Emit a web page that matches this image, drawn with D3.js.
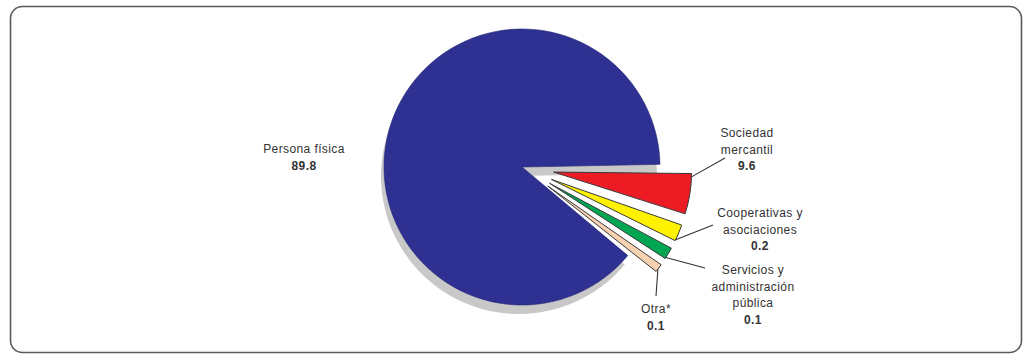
<!DOCTYPE html>
<html>
<head>
<meta charset="utf-8">
<script src="https://cdnjs.cloudflare.com/ajax/libs/d3/7.8.5/d3.min.js"></script>
<style>
  body { margin: 0; background: #fff; }
  svg text { font-family: "Liberation Sans", Arial, sans-serif; fill: #333; }
</style>
</head>
<body>
<div id="chart"></div>
<script>
// categories and labelled values (percent)
var categorias = ["Persona física", "Sociedad mercantil", "Cooperativas y asociaciones", "Servicios y administración pública", "Otra*"];
var valores = [89.8, 9.6, 0.2, 0.1, 0.1];
// share of the circle each slice takes in the drawing (small slices enlarged)
var porcion = [318.5, 17, 7, 5, 3.5];
// label lines as printed
var etiquetas = [
  ["Persona física"],
  ["Sociedad", "mercantil"],
  ["Cooperativas y", "asociaciones"],
  ["Servicios y", "administración", "pública"],
  ["Otra*"]
];
var colores = ["#2e3192", "#ed1c24", "#fff200", "#00a651", "#f8d1b0"];

var width = 1029, height = 362;
var cx = 522, cy = 167, radius = 138;

var svg = d3.select("#chart").append("svg")
    .attr("width", width)
    .attr("height", height);

// frame
svg.append("rect")
    .attr("x", 10.5).attr("y", 6.5)
    .attr("width", 1011).attr("height", 346)
    .attr("rx", 12).attr("ry", 12)
    .attr("fill", "#fff")
    .attr("stroke", "#5a5a5a")
    .attr("stroke-width", 1.6);

var deg = Math.PI / 180;
var pie = d3.pie()
    .sort(null)
    .value(function(d){ return d; })
    .padAngle(1.7 * deg)
    .startAngle(129.1 * deg)
    .endAngle(489.1 * deg);

var arcs = pie(porcion);
var arc = d3.arc().innerRadius(0).outerRadius(radius);

function explode(i){ return i === 0 ? 0 : 32; }
function offset(d, i){
  var a = (d.startAngle + d.endAngle) / 2;
  return [Math.sin(a) * explode(i), -Math.cos(a) * explode(i)];
}

var g = svg.append("g").attr("transform", "translate(" + cx + "," + cy + ")");

// shadow under the big slice only
g.append("path")
    .datum(arcs[0])
    .attr("d", arc)
    .attr("fill", "#c8c8c8")
    .attr("transform", "translate(-3,9)");

g.selectAll(".slice")
    .data(arcs)
    .enter().append("path")
    .attr("class", "slice")
    .attr("d", arc)
    .attr("fill", function(d, i){ return colores[i]; })
    .attr("stroke", function(d, i){ return i === 0 ? "#1f2270" : "#3a3a3a"; })
    .attr("stroke-width", function(d, i){ return i === 0 ? 0.6 : 1; })
    .attr("transform", function(d, i){
      var o = offset(d, i);
      return "translate(" + o[0] + "," + o[1] + ")";
    });

// label placement (first line centre) and leader end points
var posLabel = [[304, 149], [747, 133], [760, 213], [753, 270], [656, 309]];
var leaderEnd = [null, [725, 158], [713, 225], [705, 268], [656, 296]];
var ancla = [0.5, 0.12, 0.85, 0.8, 0.6];

arcs.forEach(function(d, i){
  if (!leaderEnd[i]) return;
  var a = d.startAngle + (d.endAngle - d.startAngle) * ancla[i];
  var o = offset(d, i);
  var x0 = cx + o[0] + Math.sin(a) * radius;
  var y0 = cy + o[1] - Math.cos(a) * radius;
  svg.append("line")
      .attr("x1", x0).attr("y1", y0)
      .attr("x2", leaderEnd[i][0]).attr("y2", leaderEnd[i][1])
      .attr("stroke", "#333")
      .attr("stroke-width", 1.1);
});

var lineH = 16.5;
etiquetas.forEach(function(lines, i){
  var t = svg.append("text")
      .attr("x", posLabel[i][0])
      .attr("y", posLabel[i][1])
      .attr("text-anchor", "middle")
      .style("font-size", "12px")
      .style("letter-spacing", "0.4px");
  lines.forEach(function(s, j){
    t.append("tspan")
      .attr("x", posLabel[i][0])
      .attr("y", posLabel[i][1] + j * lineH)
      .attr("dy", "0.35em")
      .text(s);
  });
  t.append("tspan")
    .attr("x", posLabel[i][0])
    .attr("y", posLabel[i][1] + lines.length * lineH)
    .attr("dy", "0.35em")
    .style("font-weight", "bold")
    .text(valores[i].toFixed(1));
});
</script>
</body>
</html>
